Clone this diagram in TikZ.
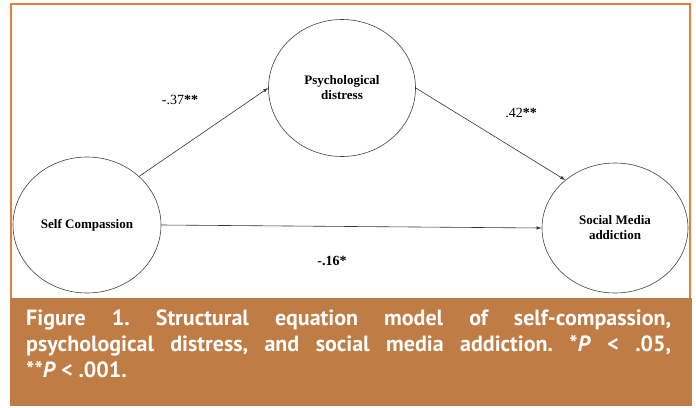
\documentclass[tikz,border=0pt]{standalone}
\usepackage{fontspec}
\setmainfont{Liberation Serif}
\newfontfamily\capfont{PT Sans}
\usetikzlibrary{arrows.meta, shapes.geometric}
\definecolor{frameorange}{RGB}{226,128,58}
\definecolor{capbrown}{RGB}{192,124,69}

\begin{document}
\begin{tikzpicture}[x=1pt, y=-1pt,
    latent/.style={draw=black!75, ellipse, line width=0.6pt, inner sep=0pt,
        font=\fontsize{13}{15}\selectfont\bfseries, align=center},
    effect/.style={-{Latex[length=5pt,width=3.5pt]}, line width=0.6pt, black!80},
    coef/.style={font=\fontsize{14}{16}\selectfont}]

    \useasboundingbox (0,0) rectangle (696,407);

    % frame and caption band
    \draw[frameorange, line width=1.5pt] (11,298) -- (11,4) -- (690,4) -- (690,298);
    \fill[capbrown] (10,298) rectangle (692,406);

    % latent variables
    \node[latent, minimum width=148pt, minimum height=136pt] (self) at (87,225) {Self Compassion};
    \node[latent, minimum width=147pt, minimum height=137pt] (psych) at (342,88) {Psychological\\distress};
    \node[latent, minimum width=146pt, minimum height=130pt] (social) at (615,228) {Social Media\\addiction};

    % paths
    \draw[effect] (self.43) -- (psych.180);
    \draw[effect] (psych.0) -- (social.136);
    \draw[effect] (self.east) -- (social.west);

    \node[coef] (c1) at (180,100) {-.37\textbf{**}};
    \node[coef] (c2) at (521,113) {.42\textbf{**}};
    \node[coef, font=\fontsize{14}{16}\selectfont\bfseries] (c3) at (332,261) {-.16*};

    \node[text width=645pt, align=justify, text=white, inner sep=0pt, anchor=north west,
        font=\capfont\bfseries\fontsize{22}{26}\selectfont\frenchspacing] (caption) at (26,310)
        {Figure 1. Structural equation model of self-compassion,\linebreak
        psychological distress, and social media addiction. *\textit{P} < .05,\linebreak
        **\textit{P} < .001.};

\end{tikzpicture}
\end{document}
